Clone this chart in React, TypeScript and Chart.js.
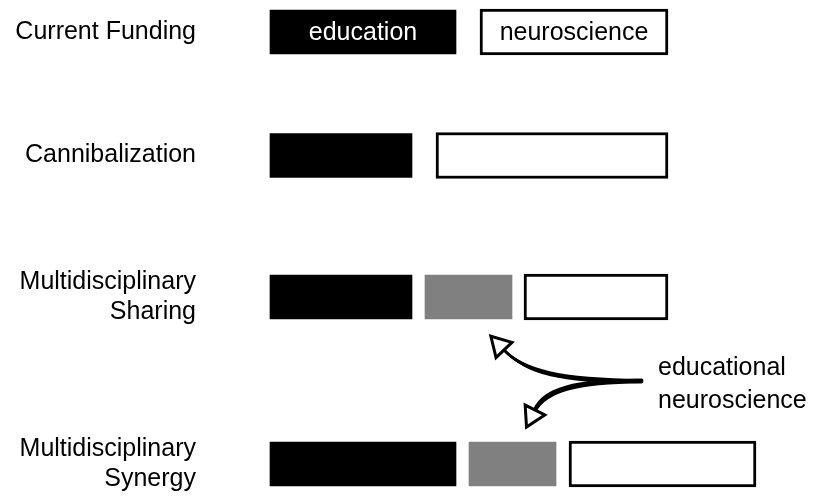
import React, { useEffect, useRef } from 'react';
import { Chart, registerables } from 'chart.js';

Chart.register(...registerables);

// Rows (top to bottom) and their vertical positions (y units)
const rowLabels: (string | string[])[] = [
  'Current Funding',
  'Cannibalization',
  ['Multidisciplinary', 'Sharing'],
  ['Multidisciplinary', 'Synergy'],
];
const rowPositions = [32, 155.5, 297, 464];

// Floating bar extents per row (x units, 0 = start of funding line)
const educationBars: ([number, number] | null)[] = [[0, 186], [0, 142], [0, 142], [0, 186]];
const sharedBars: ([number, number] | null)[] = [null, null, [155, 242], [199, 286]];
const neuroscienceBars: ([number, number] | null)[] = [[210, 398], [166, 398], [254, 398], [299, 486]];

const educationText = 'education';
const neuroscienceText = 'neuroscience';
const annotationLines = ['educational', 'neuroscience'];

// Annotation geometry in data units
const arrowOrigin = { x: 372, y: 381 };
const arrowUp = { c1: { x: 290, y: 381 }, c2: { x: 255, y: 372 }, end: { x: 234, y: 350 } };
const arrowDown = { c1: { x: 305, y: 381 }, c2: { x: 275, y: 390 }, end: { x: 265, y: 410 } };
const annotationTextPos = { x: 388, y: [375, 408] };

const FONT = '"Liberation Sans", Arial, Helvetica, sans-serif';
const FONT_SIZE = 25;

const toData = (bars: ([number, number] | null)[]) =>
  bars
    .map((b, i) => (b ? { x: b, y: rowPositions[i] } : null))
    .filter((d) => d !== null) as { x: [number, number]; y: number }[];

const overlayPlugin = {
  id: 'overlay',
  afterDatasetsDraw(chart: any) {
    const ctx: CanvasRenderingContext2D = chart.ctx;
    const xs = chart.scales.x;
    const ys = chart.scales.y;
    const P = (p: { x: number; y: number }) => ({ x: xs.getPixelForValue(p.x), y: ys.getPixelForValue(p.y) });

    ctx.save();
    // Texts inside first-row bars
    ctx.font = `${FONT_SIZE}px ${FONT}`;
    ctx.textAlign = 'center';
    ctx.textBaseline = 'middle';
    const eduEl = chart.getDatasetMeta(0).data[0];
    if (eduEl) {
      ctx.fillStyle = '#ffffff';
      ctx.fillText(educationText, (eduEl.x + eduEl.base) / 2, eduEl.y + 1);
    }
    const neuEl = chart.getDatasetMeta(2).data[0];
    if (neuEl) {
      ctx.fillStyle = '#000000';
      ctx.fillText(neuroscienceText, (neuEl.x + neuEl.base) / 2, neuEl.y + 1);
    }

    // Arrows
    const drawArrow = (a: typeof arrowUp) => {
      const o = P(arrowOrigin);
      const c1 = P(a.c1);
      const c2 = P(a.c2);
      const e = P(a.end);
      ctx.strokeStyle = '#000';
      ctx.lineCap = 'round';
      for (const off of [-1.6, -0.5, 0.6, 1.6]) {
        ctx.lineWidth = 2.4;
        ctx.beginPath();
        ctx.moveTo(o.x, o.y + off * 0.6);
        ctx.bezierCurveTo(c1.x, c1.y + off, c2.x + off, c2.y + off, e.x + off * 0.4, e.y + off * 0.4);
        ctx.stroke();
      }
      const dx = e.x - c2.x;
      const dy = e.y - c2.y;
      const len = Math.hypot(dx, dy);
      const ux = dx / len;
      const uy = dy / len;
      const nx = -uy;
      const ny = ux;
      const headLen = 19;
      const halfW = 11;
      ctx.beginPath();
      ctx.moveTo(e.x + ux * headLen, e.y + uy * headLen);
      ctx.lineTo(e.x + nx * halfW, e.y + ny * halfW);
      ctx.lineTo(e.x - nx * halfW, e.y - ny * halfW);
      ctx.closePath();
      ctx.fillStyle = '#fff';
      ctx.fill();
      ctx.lineWidth = 3;
      ctx.lineJoin = 'miter';
      ctx.stroke();
    };
    drawArrow(arrowUp);
    drawArrow(arrowDown);

    // Annotation text
    ctx.font = `${FONT_SIZE}px ${FONT}`;
    ctx.textAlign = 'left';
    ctx.textBaseline = 'alphabetic';
    ctx.fillStyle = '#000';
    annotationLines.forEach((line, i) => {
      ctx.fillText(line, xs.getPixelForValue(annotationTextPos.x), ys.getPixelForValue(annotationTextPos.y[i]));
    });
    ctx.restore();
  },
};

export default function App() {
  const canvasRef = useRef<HTMLCanvasElement | null>(null);

  useEffect(() => {
    if (!canvasRef.current) return;
    const chart = new Chart(canvasRef.current, {
      type: 'bar',
      data: {
        datasets: [
          {
            label: 'education',
            data: toData(educationBars) as any,
            backgroundColor: '#000000',
            borderWidth: 0,
            barThickness: 44,
            grouped: false,
          },
          {
            label: 'shared',
            data: toData(sharedBars) as any,
            backgroundColor: '#808080',
            borderWidth: 0,
            barThickness: 44,
            grouped: false,
          },
          {
            label: 'neuroscience',
            data: toData(neuroscienceBars) as any,
            backgroundColor: '#ffffff',
            borderColor: '#000000',
            borderWidth: 3,
            borderSkipped: false,
            barThickness: 46,
            grouped: false,
          },
        ],
      },
      options: {
        animation: false,
        responsive: false,
        indexAxis: 'y',
        layout: { padding: 0 },
        plugins: {
          legend: { display: false },
          tooltip: { enabled: false },
        },
        scales: {
          x: { type: 'linear', display: false, min: -70, max: 552, offset: false, grace: 0 },
          y: {
            type: 'linear',
            reverse: true,
            min: 0,
            max: 499,
            offset: false,
            grace: 0,
            position: 'left',
            grid: { display: false, drawTicks: false, tickLength: 0, offset: false },
            border: { display: false },
            afterBuildTicks: (axis: any) => {
              axis.ticks = rowPositions.map((v) => ({ value: v }));
            },
            afterFit: (axis: any) => {
              axis.width = 200;
              axis.paddingTop = 0;
              axis.paddingBottom = 0;
            },
            ticks: {
              autoSkip: false,
              padding: 4,
              color: '#000000',
              font: { family: FONT, size: FONT_SIZE, lineHeight: 1.2 },
              callback: (_v: any, index: number) => rowLabels[index] as any,
            },
          },
        },
      } as any,
      plugins: [overlayPlugin],
    });
    return () => chart.destroy();
  }, []);

  return (
    <div style={{ position: 'fixed', left: 0, top: 0, width: 822, height: 499, background: '#ffffff' }}>
      <canvas ref={canvasRef} width={822} height={499} style={{ display: 'block' }} />
    </div>
  );
}
